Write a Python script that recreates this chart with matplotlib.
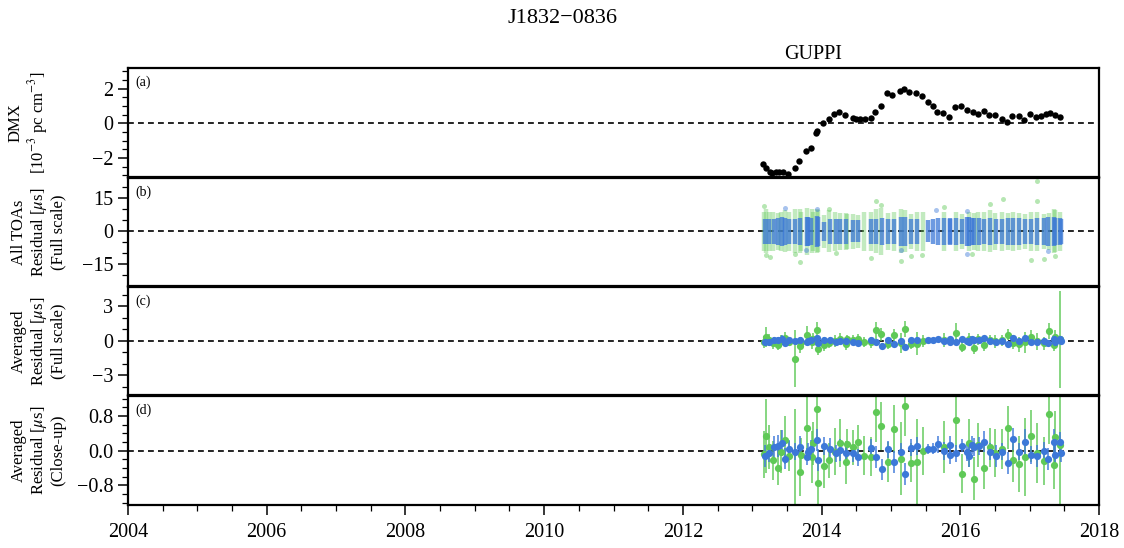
import numpy as np
import matplotlib
matplotlib.use("Agg")
import matplotlib.pyplot as plt
from matplotlib.ticker import MultipleLocator

plt.rcParams['font.family'] = ['Liberation Serif', 'DejaVu Serif']
plt.rcParams['mathtext.fontset'] = 'stix'

# ---------------- data ----------------
dmx_t = [2013.15, 2013.20, 2013.25, 2013.29, 2013.34, 2013.39, 2013.44, 2013.51, 2013.61,
         2013.68, 2013.77, 2013.85, 2013.92, 2013.94, 2014.02, 2014.11, 2014.18, 2014.25,
         2014.34, 2014.45, 2014.49, 2014.56, 2014.63, 2014.71, 2014.77, 2014.86, 2014.94,
         2015.02, 2015.13, 2015.19, 2015.26, 2015.36, 2015.45, 2015.54, 2015.60, 2015.67,
         2015.75, 2015.84, 2015.93, 2016.01, 2016.10, 2016.18, 2016.26, 2016.34, 2016.42,
         2016.50, 2016.60, 2016.68, 2016.75, 2016.84, 2016.92, 2017.00, 2017.09, 2017.16,
         2017.23, 2017.29, 2017.37, 2017.44]
dmx_v = [-2.34, -2.57, -2.82, -2.84, -2.80, -2.80, -2.83, -2.93, -2.57,
         -2.20, -1.57, -1.41, -0.56, -0.45, 0.02, 0.23, 0.52, 0.65,
         0.50, 0.33, 0.27, 0.27, 0.27, 0.33, 0.65, 0.98, 1.76,
         1.62, 1.87, 2.01, 1.81, 1.77, 1.56, 1.23, 0.98, 0.65,
         0.59, 0.39, 0.93, 1.03, 0.79, 0.68, 0.54, 0.70, 0.50,
         0.48, 0.25, 0.10, 0.45, 0.45, 0.20, 0.54, 0.35, 0.41,
         0.54, 0.60, 0.50, 0.39]

# Averaged residuals (us) - green receiver
green_t = [2013.165, 2013.199, 2013.247, 2013.295, 2013.367, 2013.415, 2013.477, 2013.535,
           2013.617, 2013.690, 2013.710, 2013.785, 2013.860, 2013.880, 2013.940, 2013.950,
           2014.039, 2014.111, 2014.193, 2014.270, 2014.355, 2014.365, 2014.457, 2014.519,
           2014.615, 2014.711, 2014.783, 2014.855, 2014.951, 2015.038, 2015.143, 2015.201,
           2015.287, 2015.369, 2015.455, 2015.767, 2015.935, 2016.017, 2016.118, 2016.190,
           2016.257, 2016.343, 2016.425, 2016.502, 2016.607, 2016.689, 2016.766, 2016.847,
           2016.929, 2017.015, 2017.102, 2017.207, 2017.279, 2017.355, 2017.370, 2017.438]
green_res = [-0.08, 0.34, 0.09, -0.22, -0.39, -0.02, 0.25, -0.12,
             -1.53, -0.49, -0.10, 0.53, -0.14, 0.17, 0.97, -0.74,
             -0.35, -0.22, -0.02, 0.17, -0.27, 0.15, 0.08, 0.19,
             -0.12, -0.14, 0.90, 0.57, -0.26, 0.50, -0.18, 1.04,
             -0.28, -0.26, -0.01, 0.08, 0.71, -0.53, 0.17, -0.64,
             0.13, -0.39, 0.08, -0.05, 0.04, 0.53, -0.22, -0.31,
             -0.14, 0.34, -0.05, -0.23, 0.85, -0.33, 0.31, 0.13]
green_err = [0.54, 0.85, 0.50, 0.45, 0.40, 0.50, 0.55, 0.35,
             2.50, 0.55, 0.40, 0.75, 0.60, 0.50, 0.70, 0.50,
             0.50, 0.40, 0.55, 0.55, 0.50, 0.35, 0.40, 0.40,
             0.45, 0.45, 0.70, 0.55, 0.45, 0.55, 0.85, 0.70,
             0.45, 1.00, 0.55, 0.60, 0.80, 0.45, 0.55, 0.50,
             0.50, 0.50, 0.45, 0.55, 0.45, 0.50, 0.50, 0.65,
             0.90, 0.60, 0.70, 0.55, 0.70, 0.55, 0.60, 4.20]

# Averaged residuals (us) - blue receiver
blue_t = [2013.189, 2013.247, 2013.319, 2013.377, 2013.425, 2013.477, 2013.535, 2013.617,
          2013.689, 2013.785, 2013.799, 2013.847, 2013.935, 2013.950, 2014.039, 2014.126,
          2014.207, 2014.270, 2014.351, 2014.447, 2014.519, 2014.711, 2014.783, 2014.865,
          2014.951, 2015.038, 2015.143, 2015.201, 2015.287, 2015.369, 2015.537, 2015.599,
          2015.671, 2015.767, 2015.845, 2015.855, 2015.935, 2016.017, 2016.103, 2016.118,
          2016.175, 2016.199, 2016.271, 2016.343, 2016.430, 2016.511, 2016.598, 2016.689,
          2016.766, 2016.847, 2016.929, 2017.015, 2017.102, 2017.207, 2017.270, 2017.355,
          2017.370, 2017.438, 2017.447]
blue_res = [-0.12, -0.06, 0.09, 0.11, 0.17, -0.18, 0.04, -0.02,
            0.09, -0.14, -0.02, 0.04, 0.25, -0.22, 0.11, 0.05,
            -0.06, 0.02, -0.05, -0.06, -0.15, 0.07, -0.14, -0.43,
            0.03, -0.26, -0.02, -0.53, 0.07, 0.11, 0.04, 0.05,
            0.15, -0.01, 0.13, -0.10, -0.06, 0.12, -0.04, -0.12,
            0.13, 0.09, 0.11, 0.21, -0.02, -0.12, -0.02, -0.28,
            0.27, -0.02, 0.21, -0.10, -0.12, 0.00, -0.19, 0.19,
            -0.10, 0.19, -0.05]
blue_err = [0.25, 0.20, 0.25, 0.25, 0.30, 0.25, 0.20, 0.20,
            0.25, 0.20, 0.20, 0.20, 0.25, 0.25, 0.20, 0.25,
            0.20, 0.25, 0.25, 0.20, 0.20, 0.20, 0.25, 0.25,
            0.20, 0.25, 0.20, 0.25, 0.20, 0.20, 0.12, 0.12,
            0.20, 0.20, 0.20, 0.20, 0.20, 0.15, 0.20, 0.25,
            0.20, 0.20, 0.20, 0.25, 0.20, 0.25, 0.20, 0.25,
            0.25, 0.20, 0.30, 0.20, 0.25, 0.20, 0.25, 0.30,
            0.25, 0.25, 0.20]

# All-TOA residual spread per epoch (us, half-range of the dense cloud)
green_toa_spread = [9.0, 10.0, 9.0, 9.0, 8.5, 9.0, 9.5, 9.0,
                    10.0, 10.0, 9.0, 10.5, 10.0, 9.0, 10.0, 9.5,
                    7.5, 9.5, 9.0, 8.5, 8.5, 8.0, 8.0, 7.5,
                    9.0, 9.0, 10.0, 10.5, 8.5, 9.0, 10.0, 9.5,
                    8.0, 9.0, 9.0, 9.0, 9.0, 8.0, 9.0, 8.5,
                    9.0, 9.0, 9.5, 8.5, 9.0, 8.5, 9.0, 8.5,
                    8.0, 9.0, 9.0, 8.0, 8.5, 10.0, 9.5, 9.0]
blue_toa_spread = [5.5, 5.5, 5.5, 6.0, 6.5, 6.0, 5.5, 5.5,
                   6.0, 6.5, 6.5, 6.0, 7.0, 6.5, 4.5, 5.5,
                   5.5, 5.5, 5.5, 5.0, 5.0, 5.5, 5.5, 6.0,
                   5.5, 5.5, 6.5, 6.5, 5.5, 5.5, 5.0, 5.5,
                   6.0, 6.0, 6.0, 5.5, 6.0, 5.5, 6.5, 6.5,
                   6.0, 6.0, 6.0, 5.5, 6.0, 5.5, 5.5, 6.0,
                   6.0, 6.0, 5.5, 5.5, 6.0, 6.0, 6.5, 6.5,
                   6.0, 6.0, 5.5]
green_out_t = [2013.17, 2013.20, 2013.25, 2013.61, 2013.69, 2014.11, 2014.21, 2014.71, 2014.78,
               2014.855, 2015.14, 2015.29, 2015.445, 2015.76, 2016.175, 2016.425, 2016.61,
               2017.015, 2017.10, 2017.10, 2017.207, 2017.365]
green_out_v = [11.5, -10.5, -11.8, -10.3, -13.8, 10.1, -9.8, -12.2, 13.8,
               12.0, -13.4, -11.1, -10.8, 10.9, -10.3, 12.3, 14.8,
               -12.9, 23.1, 13.8, -12.3, -11.1]
blue_out_t = [2013.47, 2013.78, 2013.94, 2015.14, 2015.65, 2016.10, 2016.10, 2017.26]
blue_out_v = [10.8, -8.3, 10.1, -8.3, 9.7, -10.3, 9.4, -8.8]

title = "J1832\u22120836"
backend_label = "GUPPI"
year_ticks = [2004, 2006, 2008, 2010, 2012, 2014, 2016, 2018]

GREEN = '#5fc957'
BLUE = '#3c78d8'

# ---------------- figure ----------------
fig = plt.figure(figsize=(11.24, 5.48), dpi=100)
L, W = 0.1139, 0.8639
axa = fig.add_axes([L, 0.677, W, 0.199])
axb = fig.add_axes([L, 0.478, W, 0.197])
axc = fig.add_axes([L, 0.279, W, 0.197])
axd = fig.add_axes([L, 0.0785, W, 0.198])
axes = [axa, axb, axc, axd]

# (a) DMX
axa.plot(dmx_t, dmx_v, 'o', color='black', ms=4.6, mec='none')
axa.set_ylim(-3.1, 3.2)
axa.yaxis.set_major_locator(MultipleLocator(2))
axa.yaxis.set_minor_locator(MultipleLocator(0.5))

# (b) all TOAs
axb.vlines(green_t, -np.array(green_toa_spread), np.array(green_toa_spread),
           color=GREEN, lw=3.2, alpha=0.38)
axb.plot(green_out_t, green_out_v, 'o', color=GREEN, ms=3.6, alpha=0.45, mec='none')
axb.vlines(blue_t, -np.array(blue_toa_spread), np.array(blue_toa_spread),
           color=BLUE, lw=3.2, alpha=0.75)
axb.plot(blue_out_t, blue_out_v, 'o', color=BLUE, ms=3.6, alpha=0.45, mec='none')
axb.set_ylim(-24.8, 24.2)
axb.yaxis.set_major_locator(MultipleLocator(15))
axb.yaxis.set_minor_locator(MultipleLocator(5))

# (c) and (d) averaged
for ax in (axc, axd):
    ax.errorbar(green_t, green_res, yerr=green_err, fmt='o', color=GREEN, ms=5.2,
                mec='none', elinewidth=1.4, ecolor=(0.37, 0.79, 0.34, 0.75), capsize=0)
    ax.errorbar(blue_t, blue_res, yerr=blue_err, fmt='o', color=BLUE, ms=5.2,
                mec='none', elinewidth=1.4, ecolor=(0.24, 0.47, 0.85, 0.75), capsize=0)
axc.set_ylim(-4.7, 4.65)
axc.yaxis.set_major_locator(MultipleLocator(3))
axc.yaxis.set_minor_locator(MultipleLocator(1))
axd.set_ylim(-1.25, 1.25)
axd.set_yticks([-0.8, 0.0, 0.8])
axd.yaxis.set_minor_locator(MultipleLocator(0.2))

ylabels = ["DMX\n[10$^{-3}$ pc cm$^{-3}$]",
           "All TOAs\nResidual [$\\mu$s]\n(Full scale)",
           "Averaged\nResidual [$\\mu$s]\n(Full scale)",
           "Averaged\nResidual [$\\mu$s]\n(Close-up)"]
label_x = [-0.102, -0.092, -0.092, -0.092]
letters = ["(a)", "(b)", "(c)", "(d)"]

for ax, lab, lx, let in zip(axes, ylabels, label_x, letters):
    ax.axhline(0, color='black', lw=1.2, ls=(0, (3.5, 2.5)), zorder=1)
    ax.set_xlim(2004, 2018)
    for s in ax.spines.values():
        s.set_linewidth(1.6)
    ax.tick_params(axis='y', which='major', direction='out', length=7, width=1.1, labelsize=14.5)
    ax.tick_params(axis='y', which='minor', direction='out', length=4, width=0.9)
    ax.text(lx, 0.5, lab, transform=ax.transAxes, rotation=90, ha='center', va='center',
            multialignment='center', fontsize=12, linespacing=1.12)
    ax.text(0.008, 0.87, let, transform=ax.transAxes, ha='left', va='center', fontsize=10)
    if ax is not axd:
        ax.tick_params(axis='x', which='both', bottom=False, labelbottom=False)

axd.set_xticks(year_ticks)
axd.xaxis.set_minor_locator(MultipleLocator(0.5))
axd.tick_params(axis='x', which='major', direction='out', length=7, width=1.1, labelsize=14.5, pad=6)
axd.tick_params(axis='x', which='minor', direction='out', length=4, width=0.9)

axa.text(2013.87, 1.035, backend_label, transform=axa.get_xaxis_transform(),
         ha='center', va='bottom', fontsize=14.5)
fig.text(0.5, 0.967, title, ha='center', va='center', fontsize=16)

fig.savefig("out.png", dpi=100)
